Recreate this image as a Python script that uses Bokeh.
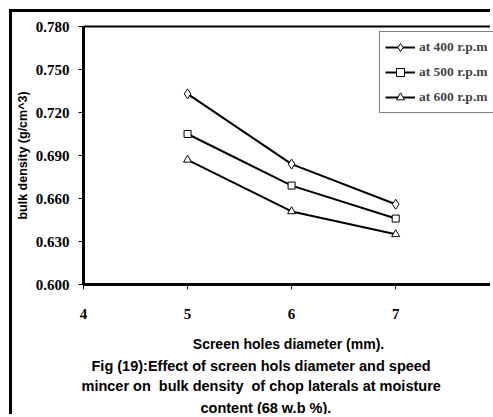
from bokeh.plotting import figure
from bokeh.models import (FixedTicker, NumeralTickFormatter, Range1d, LinearAxis,
                          Legend, LegendItem, Title)
from bokeh.embed import file_html
from bokeh.resources import INLINE

hole_diameter = [5, 6, 7]
rpm400 = [0.733, 0.684, 0.656]
rpm500 = [0.705, 0.669, 0.646]
rpm600 = [0.687, 0.651, 0.635]
series_names = ["at 400 r.p.m", "at 500 r.p.m", "at 600 r.p.m"]
y_ticks = [0.600, 0.630, 0.660, 0.690, 0.720, 0.750, 0.780]
x_ticks = [4, 5, 6, 7]
caption_lines = ["Fig (19):Effect of screen hols diameter and speed",
                 "mincer on\u00a0 bulk density\u00a0 of chop laterals at moisture",
                 "content (68 w.b %)."]
caption_offsets = [8, -2, 117]
caption_standoffs = [2, 3, 4]

p = figure(width=481, height=405, output_backend="svg", toolbar_location=None,
           x_range=Range1d(4, 7.94), y_range=Range1d(0.600, 0.780),
           min_border_left=68, min_border_right=0, min_border_top=14,
           min_border_bottom=10)
p.styles = {"margin-left": "9px", "margin-top": "9px",
            "border-left": "3px solid black", "border-top": "3px solid black"}
p.outline_line_color = None
p.xgrid.visible = False
p.ygrid.visible = False

serif = "Liberation Serif"
sans = "Liberation Sans"

p.yaxis.ticker = FixedTicker(ticks=y_ticks)
p.yaxis.formatter = NumeralTickFormatter(format="0.000")
p.xaxis.ticker = FixedTicker(ticks=x_ticks)
for ax in (p.xaxis[0], p.yaxis[0]):
    ax.axis_line_width = 3
    ax.axis_line_color = "black"
    ax.major_tick_in = 0
    ax.major_tick_out = 5
    ax.major_tick_line_color = "black"
    ax.minor_tick_line_color = None
    ax.major_label_text_font = serif
    ax.major_label_text_font_style = "bold"
    ax.major_label_text_font_size = "15px"
    ax.major_label_text_color = "black"
    ax.axis_label_text_font = sans
    ax.axis_label_text_font_style = "bold"
    ax.axis_label_text_color = "black"
p.yaxis.axis_label = "bulk density (g/cm^3)"
p.yaxis.axis_label_text_font_size = "12.5px"
p.yaxis.major_label_standoff = 9
p.yaxis.axis_label_standoff = 3
p.xaxis.axis_label = "Screen holes diameter (mm)."
p.xaxis.axis_label_text_font_size = "14px"
p.xaxis.major_label_standoff = 19
p.xaxis.axis_label_standoff = 14

top_axis = LinearAxis(axis_line_width=2, major_tick_line_color=None,
                      minor_tick_line_color=None, major_label_text_font_size="0px",
                      ticker=FixedTicker(ticks=[]))
p.add_layout(top_axis, "above")

items = []
markers = ["diamond", "square", "triangle"]
sizes = [10, 7, 8]
for vals, mk, sz, name in zip([rpm400, rpm500, rpm600], markers, sizes, series_names):
    r1 = p.line(hole_diameter, vals, line_color="black", line_width=2)
    r2 = p.scatter(hole_diameter, vals, marker=mk, size=sz, fill_color="white",
                   line_color="black", line_width=1)
    items.append(LegendItem(label=name, renderers=[r1, r2]))

legend = Legend(items=items, location=(296, 171), border_line_color="black",
                border_line_width=1, label_text_font=serif, label_text_font_style="bold",
                label_text_font_size="13.5px", glyph_width=30, glyph_height=20,
                label_height=20, spacing=5, padding=5, margin=0,
                label_standoff=4, background_fill_alpha=1)
p.add_layout(legend, "center")

for line, off, so in zip(caption_lines, caption_offsets, caption_standoffs):
    p.add_layout(Title(text=line, text_font=sans, text_font_style="bold",
                       text_font_size="14.5px", align="left", offset=off,
                       standoff=so, text_color="black"), "below")

open("out.html", "w").write(file_html(p, INLINE))
